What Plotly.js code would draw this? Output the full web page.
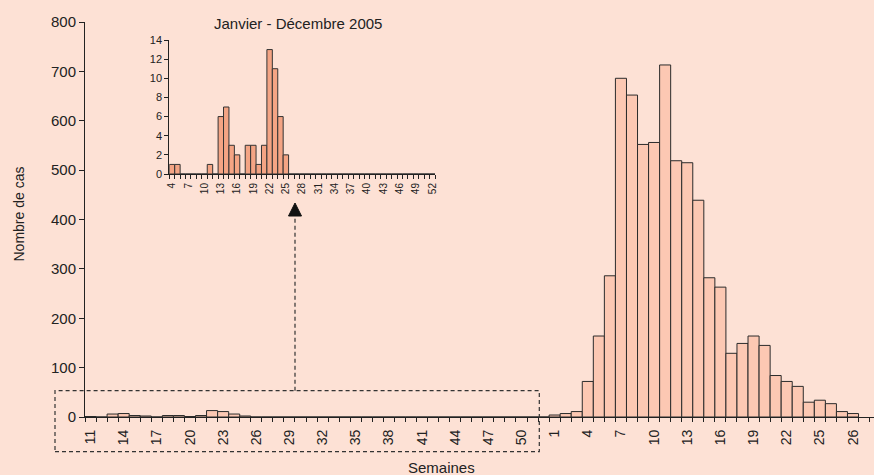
<!DOCTYPE html>
<html>
<head>
<meta charset="utf-8">
<script src="https://cdn.plot.ly/plotly-3.0.1.min.js"></script>
<style>
  html, body { margin: 0; padding: 0; background: #FDE1D5; }
  #chart { width: 874px; height: 475px; }
</style>
</head>
<body>
<div id="chart"></div>
<script>
// ---- Data ----
// 2005, weeks 4..52 (inset "Janvier - Décembre 2005")
const weeks2005 = [4,5,6,7,8,9,10,11,12,13,14,15,16,17,18,19,20,21,22,23,24,25,26,27,28,29,30,31,32,33,34,35,36,37,38,39,40,41,42,43,44,45,46,47,48,49,50,51,52];
const cases2005 = [1,1,0,0,0,0,0,1,0,6,7,3,2,0,3,3,1,3,13,11,6,2,0,0,0,0,0,0,0,0,0,0,0,0,0,0,0,0,0,0,0,0,0,0,0,0,0,0,0];
// 2006, weeks 1..28
const weeks2006 = [1,2,3,4,5,6,7,8,9,10,11,12,13,14,15,16,17,18,19,20,21,22,23,24,25,26,27,28];
const cases2006 = [4,7,11,72,164,286,686,652,552,556,713,519,515,439,282,263,129,149,164,145,84,72,62,30,34,27,11,7];

// main chart starts at week 11 of 2005
const mainStartWeek = 11;
// tick labels of the main x axis (week keys and the text shown)
const mainTickKeys = ['2005-11','2005-14','2005-17','2005-20','2005-23','2005-26','2005-29','2005-32','2005-35','2005-38','2005-41','2005-44','2005-47','2005-50',
                      '2006-1','2006-4','2006-7','2006-10','2006-13','2006-16','2006-19','2006-22','2006-25','2006-28'];
const mainTickText = ['11','14','17','20','23','26','29','32','35','38','41','44','47','50',
                      '1','4','7','10','13','16','19','22','25','26'];
// inset tick labels
const insetTickWeeks = [4,7,10,13,16,19,22,25,28,31,34,37,40,43,46,49,52];

const titleMain = 'Nombre de cas';
const titleX = 'Semaines';
const titleInset = 'Janvier - Décembre 2005';

// ---- Build main series ----
const mainKeys = [], mainVals = [];
weeks2005.forEach((w, i) => { if (w >= mainStartWeek) { mainKeys.push('2005-' + w); mainVals.push(cases2005[i]); } });
weeks2006.forEach((w, i) => { mainKeys.push('2006-' + w); mainVals.push(cases2006[i]); });
const mainX = mainKeys.map((k, i) => i);
const mainTickVals = mainTickKeys.map(k => mainKeys.indexOf(k));

const insetX = weeks2005.map((w, i) => i);
const insetTickVals = insetTickWeeks.map(w => weeks2005.indexOf(w));

// ---- Layout helpers (pixel -> paper) ----
const M = { l: 85, r: 0, t: 22, b: 58 };
const PW = 874 - M.l - M.r, PH = 475 - M.t - M.b;
const px = x => (x - M.l) / PW;
const py = y => (475 - M.b - y) / PH;

const FONT = 'Liberation Sans, Arial, sans-serif';
const INK = '#222222';

const traces = [
  {
    type: 'bar', x: mainX, y: mainVals, xaxis: 'x', yaxis: 'y',
    width: 1,
    marker: { color: '#FCC8B3', line: { color: '#2b2b2b', width: 1 } },
    hoverinfo: 'skip'
  },
  {
    type: 'bar', x: insetX, y: cases2005, xaxis: 'x2', yaxis: 'y2',
    width: 1,
    marker: { color: '#F4A484', line: { color: '#333333', width: 1 } },
    hoverinfo: 'skip'
  }
];

const layout = {
  width: 874, height: 475,
  margin: M,
  paper_bgcolor: '#FDE1D5', plot_bgcolor: 'rgba(0,0,0,0)',
  showlegend: false,
  bargap: 0,
  font: { family: FONT, color: INK },
  xaxis: {
    range: [-0.5, 70.9], showgrid: false, zeroline: false,
    showline: true, linecolor: INK, linewidth: 1,
    tickmode: 'array', tickvals: mainTickVals, ticktext: mainTickText,
    ticks: '', tickangle: -90, tickfont: { size: 14, color: INK },
    ticklabelstandoff: 6,
    minor: { ticks: 'outside', tickmode: 'linear', tick0: -0.5, dtick: 1, ticklen: 4, tickcolor: INK, tickwidth: 1, showgrid: false }
  },
  yaxis: {
    range: [0, 800], dtick: 100, showgrid: false, zeroline: false,
    showline: true, linecolor: INK, linewidth: 1,
    ticks: 'outside', ticklen: 5, tickcolor: INK, tickfont: { size: 15, color: INK }
  },
  xaxis2: {
    domain: [px(169.3), px(435)], anchor: 'y2',
    range: [-0.5, 48.5], showgrid: false, zeroline: false,
    showline: true, linecolor: INK, linewidth: 1,
    tickmode: 'array', tickvals: insetTickVals, ticktext: insetTickWeeks.map(String),
    ticks: '', tickangle: -90, tickfont: { size: 10, color: INK },
    ticklabelstandoff: 4,
    minor: { ticks: 'outside', tickmode: 'linear', tick0: -0.5, dtick: 1, ticklen: 4, tickcolor: INK, tickwidth: 1, showgrid: false }
  },
  yaxis2: {
    domain: [py(174), py(40)], anchor: 'x2',
    range: [0, 14], dtick: 2, showgrid: false, zeroline: false,
    showline: true, linecolor: INK, linewidth: 1,
    ticks: 'outside', ticklen: 4, tickcolor: INK, tickfont: { size: 11, color: INK }
  },
  shapes: [
    { type: 'rect', xref: 'paper', yref: 'paper', x0: px(55), x1: px(539.3), y0: py(451.7), y1: py(390.7),
      line: { color: '#333333', width: 1.2, dash: '4px,3px' }, fillcolor: 'rgba(0,0,0,0)' },
    { type: 'line', xref: 'paper', yref: 'paper', x0: px(295), x1: px(295), y0: py(390.7), y1: py(216),
      line: { color: '#333333', width: 1.2, dash: '4px,3px' } },
    { type: 'path', xref: 'paper', yref: 'paper',
      path: `M ${px(295)},${py(203)} L ${px(288.5)},${py(216)} L ${px(301.5)},${py(216)} Z`,
      fillcolor: '#111111', line: { color: '#111111', width: 1 } }
  ],
  annotations: [
    { text: titleMain, xref: 'paper', yref: 'paper', x: px(18.5), y: py(214), textangle: -90,
      showarrow: false, xanchor: 'center', yanchor: 'middle', font: { size: 14, color: INK } },
    { text: titleX, xref: 'paper', yref: 'paper', x: px(441), y: py(467), 
      showarrow: false, xanchor: 'center', yanchor: 'middle', font: { size: 15, color: INK } },
    { text: titleInset, xref: 'paper', yref: 'paper', x: px(298), y: py(23),
      showarrow: false, xanchor: 'center', yanchor: 'middle', font: { size: 15, color: INK } }
  ]
};

Plotly.newPlot('chart', traces, layout, { staticPlot: true, displayModeBar: false });
</script>
</body>
</html>
